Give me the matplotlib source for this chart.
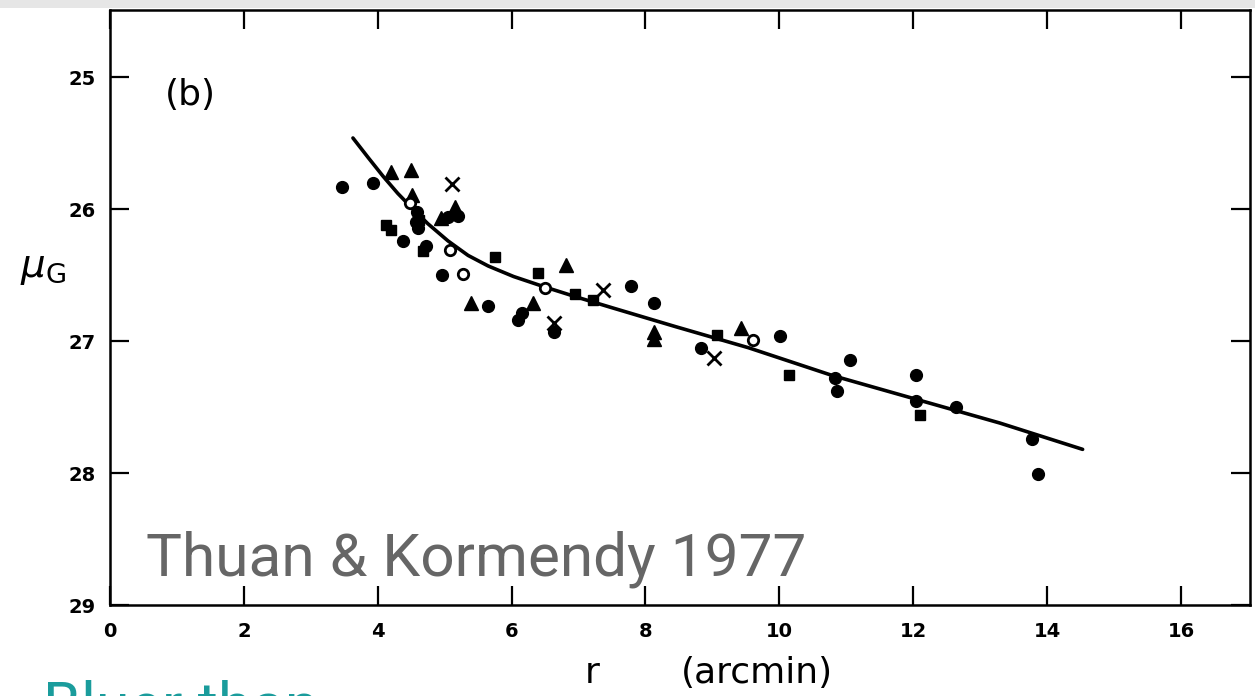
"""Surface-brightness profile, panel (b): mu_G against radius, Thuan & Kormendy 1977."""
import matplotlib

matplotlib.use("Agg")
import matplotlib.pyplot as plt
from matplotlib.patches import Rectangle

# filled circles
circ_r = [3.47, 3.93, 4.38, 4.96, 5.65, 6.10, 6.15, 6.64, 7.78, 8.12, 8.83, 10.01,
          10.83, 10.86, 11.06, 12.04, 12.04, 12.64, 13.78, 13.87, 4.59, 4.57, 4.60,
          5.05, 5.20, 4.72]
circ_mu = [25.83, 25.80, 26.24, 26.50, 26.73, 26.84, 26.79, 26.93, 26.58, 26.71, 27.05, 26.96,
           27.28, 27.38, 27.14, 27.26, 27.45, 27.50, 27.74, 28.01, 26.02, 26.10, 26.14,
           26.06, 26.05, 26.28]
# filled squares
sq_r = [4.12, 4.20, 4.68, 5.75, 6.40, 6.95, 7.22, 9.07, 10.15, 12.10, 4.62]
sq_mu = [26.12, 26.16, 26.32, 26.36, 26.48, 26.64, 26.69, 26.95, 27.26, 27.56, 26.08]
# filled triangles
tri_r = [4.20, 4.50, 4.51, 4.95, 5.15, 5.40, 6.32, 6.82, 8.12, 8.12, 9.42]
tri_mu = [25.72, 25.70, 25.89, 26.07, 25.98, 26.71, 26.71, 26.42, 26.93, 26.98, 26.90]
# open circles
open_r = [4.48, 5.08, 5.28, 6.50, 9.60]
open_mu = [25.95, 26.31, 26.49, 26.60, 26.99]
# crosses
x_r = [5.11, 7.37, 6.64, 9.03]
x_mu = [25.81, 26.61, 26.86, 27.13]
# fitted curve
fit_r = [3.63, 3.86, 4.08, 4.30, 4.53, 4.75, 5.05, 5.35, 5.65, 6.03, 6.50, 7.00,
         7.49, 8.45, 9.54, 10.79, 12.04, 13.29, 14.53]
fit_mu = [25.46, 25.61, 25.75, 25.88, 26.00, 26.11, 26.24, 26.35, 26.43, 26.51, 26.59, 26.67,
          26.745, 26.89, 27.05, 27.26, 27.44, 27.62, 27.82]

xticks = [0, 2, 4, 6, 8, 10, 12, 14, 16]
yticks = [25, 26, 27, 28, 29]

fig = plt.figure(figsize=(12.55, 6.96), dpi=100)
fig.patches.append(Rectangle((0, 0.988), 1, 0.012, transform=fig.transFigure,
                             facecolor="#e6e6e6", edgecolor="none", zorder=0))
ax = fig.add_axes([0.0876, 0.1307, 0.9084, 0.8549])

ax.plot(fit_r, fit_mu, color="black", linewidth=2.6, solid_capstyle="round",
        solid_joinstyle="round", zorder=2)
ax.plot(circ_r, circ_mu, "o", color="black", markersize=8.5, zorder=3)
ax.plot(sq_r, sq_mu, "s", color="black", markersize=7.5, zorder=3)
ax.plot(tri_r, tri_mu, "^", color="black", markersize=10, zorder=3)
ax.plot(open_r, open_mu, "o", markerfacecolor="white", markeredgecolor="black",
        markeredgewidth=2, markersize=7.5, zorder=4)
ax.plot(x_r, x_mu, "x", color="black", markeredgewidth=2, markersize=10, zorder=3)

ax.set_xlim(0, 17.03)
ax.set_ylim(29, 24.49)
ax.set_xticks(xticks)
ax.set_yticks(yticks)
ax.tick_params(direction="in", length=14, width=1.6, top=True, right=True,
               labelsize=14, pad=12)
ax.tick_params(axis="y", pad=10)
for lab in ax.get_xticklabels() + ax.get_yticklabels():
    lab.set_fontweight("bold")
for s in ax.spines.values():
    s.set_linewidth(1.8)

ax.text(0.048, 0.857, "(b)", transform=ax.transAxes, fontsize=26, va="center")
fig.text(0.016, 0.615, r"$\mu_{\mathrm{G}}$", fontsize=28, va="center")
fig.text(0.466, 0.033, "r", fontsize=26, va="center")
fig.text(0.603, 0.033, "(arcmin)", fontsize=26, va="center", ha="center")
fig.text(0.116, 0.197, "Thuan & Kormendy 1977", fontsize=43.5, color="#666666",
         family="Roboto", va="center")
fig.text(0.034, 0.024, "Bluer than", fontsize=44, color="#1a9c9c",
         family="Roboto", va="top")

fig.savefig("out.png", dpi=100)
